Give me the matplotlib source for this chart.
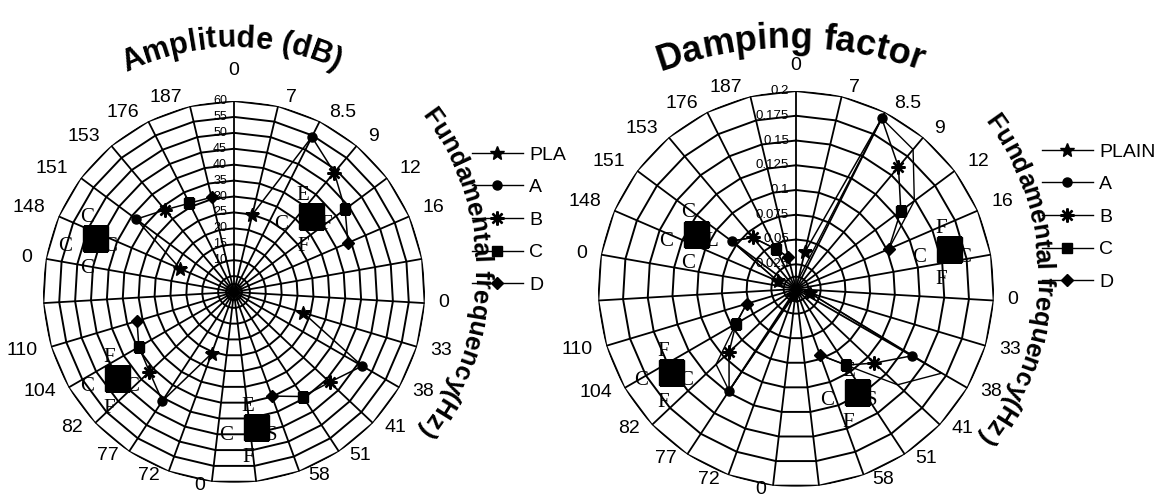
import numpy as np
import matplotlib
matplotlib.use("Agg")
import matplotlib.pyplot as plt
from matplotlib.lines import Line2D
from matplotlib.font_manager import FontProperties
from matplotlib.textpath import TextToPath

W, H, DPI = 1159, 498, 100

# 27 spokes round each dial; the blank spokes split the four groups
spoke_labels = ["0", "7", "8.5", "9", "12", "16", "",
                "0", "33", "38", "41", "51", "58", "",
                "0", "72", "77", "82", "104", "110", "",
                "0", "148", "151", "153", "176", "187"]
group_start = [1, 8, 15, 22]          # spoke of PLAIN, then A, B, C, D
series = ["PLAIN", "A", "B", "C", "D"]

amp_rings = [2.5, 5, 10, 15, 20, 25, 30, 35, 40, 45, 50, 55, 60]
amp_ring_labels = ["10", "15", "20", "25", "30", "35", "40", "45", "50", "55", "60"]
amp_plain = [25.0, 22.7, 20.6, 18.4]
amp_a = [54.5, 46.5, 41.0, 38.3]
amp_b = [49.0, 41.3, 36.5, 33.7]
amp_c = [43.5, 39.3, 34.5, 31.2]
amp_d = [39.0, 34.8, 31.8, 30.6]

damp_rings = [0.0125, 0.025, 0.05, 0.075, 0.1, 0.125, 0.15, 0.175, 0.2]
damp_ring_labels = ["0.025", "0.05", "0.075", "0.1", "0.125", "0.15", "0.175", "0.2"]
damp_plain = [0.038, 0.015, 0.008, 0.020]
damp_a = [0.193, 0.135, 0.123, 0.081]
damp_b = [0.161, 0.109, 0.093, 0.068]
damp_c = [0.132, 0.092, 0.070, 0.045]
damp_d = [0.102, 0.071, 0.052, 0.033]
# the unmarked second trace on the damping dial (PLAIN..D spokes of each group)
damp_trace = [[0.010, 0.193, 0.184, 0.149, 0.102],
              [0.015, 0.170, 0.141, 0.092, 0.071],
              [0.005, 0.123, 0.111, 0.070, 0.052],
              [0.020, 0.081, 0.068, 0.045, 0.033]]

# big black boxes with their letters (top, left, right, bottom)
amp_box_angle = [45.4, 291.0, 233.7, 170.7]
amp_box_r = [34.0, 46.9, 45.7, 43.0]
amp_box_text = ["ECFF", "CCCC", "FCCF", "ECSF"]
damp_box_angle = [75.4, 299.0, 236.3, 149.6]
damp_box_r = [0.160, 0.115, 0.152, 0.121]
damp_box_text = ["FCCF", "CCLC", "FCCF", "ECSF"]

markers = {"PLAIN": dict(marker="*", ms=10),
           "A": dict(marker="o", ms=6.5),
           "B": dict(marker=(8, 2, 0), ms=10, mew=1.7),
           "C": dict(marker="s", ms=7),
           "D": dict(marker="D", ms=6.5)}

SANS = "Liberation Sans"
fig = plt.figure(figsize=(W / DPI, H / DPI), dpi=DPI)
theta = np.arange(27) * 2 * np.pi / 27
ttp = TextToPath()


def tw(s, fp):
    w, h, d = ttp.get_text_width_height_descent(s, fp, ismath=False)
    return w * DPI / 72


def arc_text(txt, cx, cy, rad, mid, size):
    # letters along a circle, reading clockwise, tops outward (pixel coords)
    fp = FontProperties(family=SANS, weight="bold", size=size)
    total = tw(txt, fp)
    for i, ch in enumerate(txt):
        if ch == " ":
            continue
        cw = tw(ch, fp)
        s = tw(txt[:i + 1], fp) - cw / 2 - total / 2
        a = np.radians(mid) + s / rad
        x = cx + rad * np.sin(a)
        y = cy - rad * np.cos(a)
        fig.text(x / W, 1 - y / H, ch, fontproperties=fp, rotation=-np.degrees(a),
                 rotation_mode="anchor", ha="center", va="baseline")


def dial(cx, cy, R, rings, ring_labels, rmax, ring_fs, top_dy):
    ax = fig.add_axes([(cx - R) / W, (H - cy - R) / H, 2 * R / W, 2 * R / H],
                      projection="polar")
    ax.set_theta_zero_location("N")
    ax.set_theta_direction(-1)
    ax.set_ylim(0, rmax)
    ax.grid(False)
    ax.set_xticks([])
    ax.set_yticks([])
    ax.spines["polar"].set_visible(False)
    tc = np.append(theta, theta[0])
    for v in rings:
        ax.plot(tc, np.full(len(tc), v), color="black", lw=1.4, zorder=1)
    for t in theta:
        ax.plot([t, t], [0, rmax], color="black", lw=1.3, zorder=1)
    for v, lab in zip(rings[-len(ring_labels):], ring_labels):
        ax.annotate(lab, xy=(0, v), xytext=(-5, 0), textcoords="offset points",
                    ha="right", va="center", fontsize=ring_fs, family=SANS, zorder=6)
    fp = FontProperties(family=SANS, size=14)
    for k, lab in enumerate(spoke_labels):
        if not lab:
            continue
        s, c = np.sin(theta[k]), np.cos(theta[k])
        dx = np.sign(np.round(s, 6)) * (0.5 * tw(lab, fp) + 6 + 8 * abs(s))
        dy = 9 if c > 0.3 else (-4 if c < -0.2 else 1)
        if k == 0:
            dy = top_dy
        ax.annotate(lab, xy=(theta[k], rmax), xytext=(dx * 0.72, dy * 0.72),
                    textcoords="offset points", ha="center", va="center",
                    fontproperties=fp, annotation_clip=False)
    return ax


def draw_data(ax, vals):
    gs = np.array(group_start)
    for g, k0 in enumerate(group_start):
        ax.plot(theta[k0:k0 + 5], [v[g] for v in vals], color="black", lw=1.1, zorder=2)
    for i, (name, v) in enumerate(zip(series, vals)):
        ax.plot(theta[gs + i], v, ls="none", color="black", zorder=3, **markers[name])


def boxes(ax, angles, radii, texts):
    offs = [(-8, 21), (-30, -8), (15, -8), (-8, -30)]
    for a, r, letters in zip(angles, radii, texts):
        t = np.radians(a)
        for ch, (dx, dy) in zip(letters, offs):
            ax.annotate(ch, xy=(t, r), xytext=(dx * 0.72, dy * 0.72), textcoords="offset points",
                        ha="center", va="center", fontsize=15, family="Liberation Serif", zorder=4)
        ax.plot([t], [r], marker="s", ms=18, color="black", zorder=5)


def legend(labels, x, y):
    handles = [Line2D([], [], color="black", lw=1.0, **markers[s]) for s in series]
    fig.legend(handles, labels, loc="upper left", bbox_to_anchor=(x / W, 1 - y / H),
               frameon=False, prop=FontProperties(family=SANS, size=14),
               handlelength=2.6, handletextpad=0.35, labelspacing=0.77,
               borderpad=0, borderaxespad=0)


# left: amplitude
ax1 = dial(234, 292, 191, amp_rings, amp_ring_labels, 60, 9, 31)
draw_data(ax1, [amp_plain, amp_a, amp_b, amp_c, amp_d])
boxes(ax1, amp_box_angle, amp_box_r, amp_box_text)
arc_text("Amplitude (dB)", 234, 292, 245, -0.6, 22)
arc_text("Fundamental frequency(Hz)", 219, 270, 255, 90.6, 18.5)
legend(["PLA", "A", "B", "C", "D"], 472, 146)

# right: damping factor
ax2 = dial(796, 289, 198, damp_rings, damp_ring_labels, 0.2, 9.5, 26)
for g, k0 in enumerate(group_start):
    ax2.plot(theta[k0:k0 + 5], damp_trace[g], color="black", lw=1.0, zorder=2)
draw_data(ax2, [damp_plain, damp_a, damp_b, damp_c, damp_d])
boxes(ax2, damp_box_angle, damp_box_r, damp_box_text)
arc_text("Damping factor", 790, 428, 380, 0.0, 26)
arc_text("Fundamental frequency(Hz)", 781, 275, 255, 91.0, 18.5)
legend(["PLAIN", "A", "B", "C", "D"], 1042, 143)

fig.savefig("out.png", dpi=DPI)
